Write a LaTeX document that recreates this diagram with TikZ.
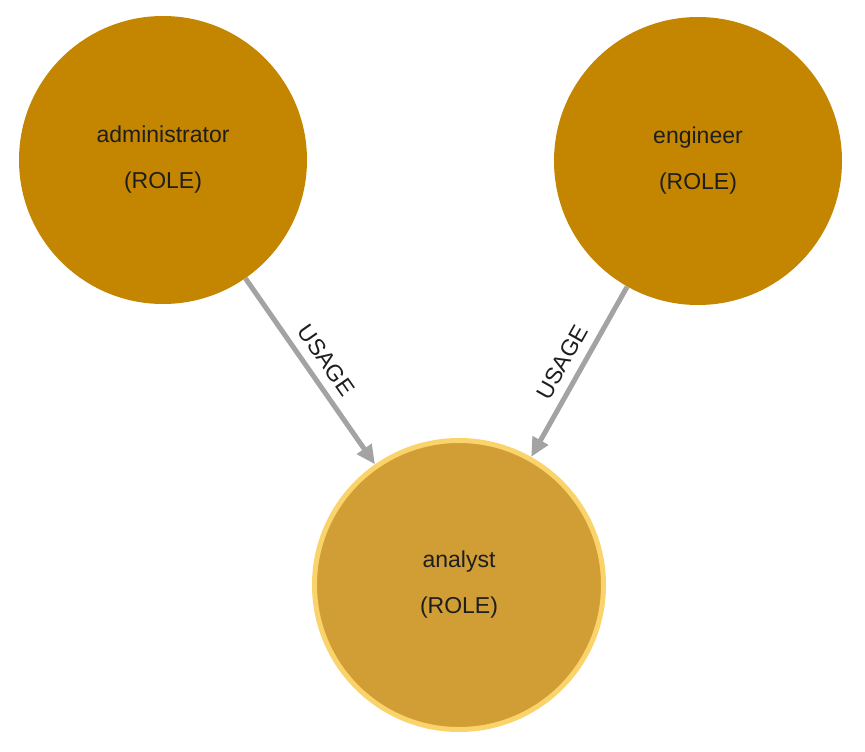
\documentclass[tikz,border=0pt]{standalone}
\usepackage{fontspec}
\setmainfont{Liberation Sans}
\usetikzlibrary{arrows.meta}
\definecolor{rolefill}{HTML}{C48600}
\definecolor{selfill}{HTML}{D19D35}
\definecolor{selring}{HTML}{FAD36A}
\definecolor{edgegray}{HTML}{A3A3A3}
\definecolor{txt}{HTML}{1E1E1E}
\tikzset{
  rolenode/.style={circle, fill=rolefill, minimum size=288pt, inner sep=0pt,
    align=center, text=txt, font=\fontsize{23}{46}\selectfont},
  selnode/.style={rolenode, fill=selfill, draw=selring, line width=5pt, minimum size=289pt},
  usage/.style={draw=edgegray, line width=5pt, -{Triangle[length=19pt,width=17pt]}},
  usagelbl/.style={midway, sloped, above, text=txt, font=\fontsize{23}{26}\selectfont, inner sep=9pt}
}
\begin{document}
\begin{tikzpicture}[x=1pt,y=-1pt]
\useasboundingbox[fill=white] (0,0) rectangle (865,752);
\node[rolenode] (admin) at (163,160) {administrator\\(ROLE)};
\node[rolenode] (eng) at (698,161) {engineer\\(ROLE)};
\node[selnode] (analyst) at (459,585) {analyst\\(ROLE)};
\draw[usage] (admin) -- node[usagelbl] (l1) {USAGE} (analyst);
\draw[usage] (eng) -- node[usagelbl] (l2) {USAGE} (analyst);
\end{tikzpicture}
\end{document}
